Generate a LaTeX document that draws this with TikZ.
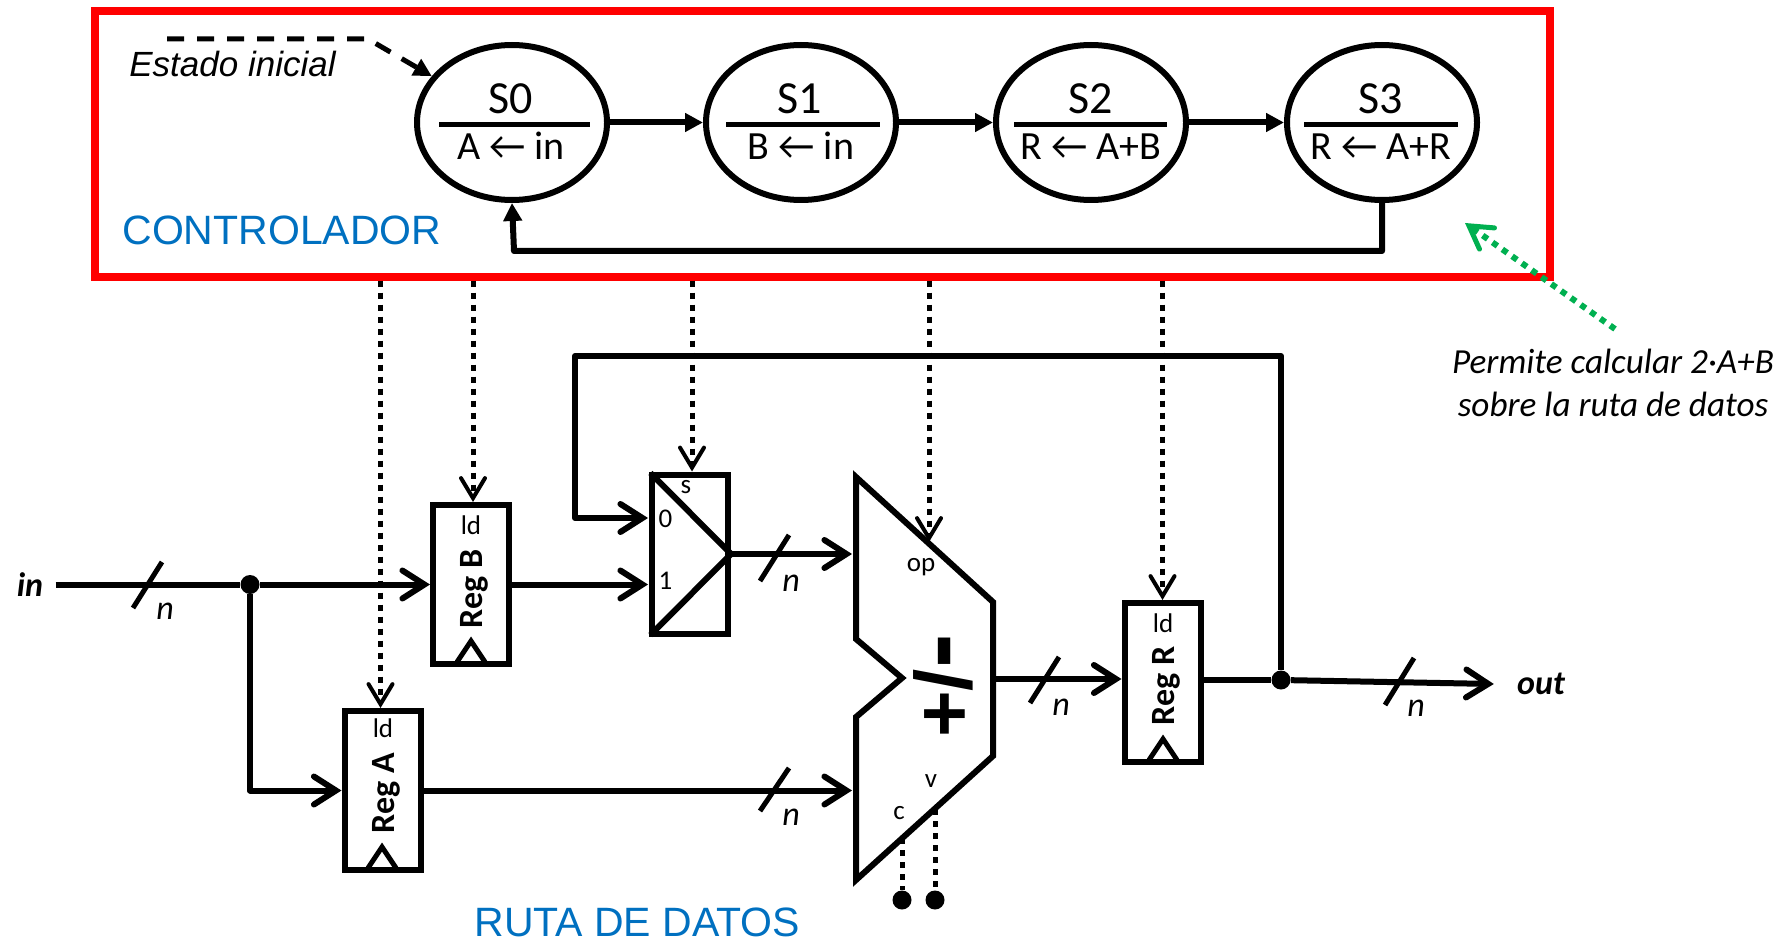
\documentclass[tikz,border=0pt]{standalone}
\usepackage{fontspec}
\setmainfont{Carlito}
\newfontfamily\arialfont{Liberation Sans}
\usepackage{xcolor}
\usetikzlibrary{arrows.meta, shapes.geometric}
\definecolor{titleblue}{HTML}{0070C0}
\definecolor{notegreen}{HTML}{00B050}

\begin{document}
\begin{tikzpicture}[x=0.5pt, y=-0.5pt,
    state/.style={draw, ellipse, line width=3pt, inner sep=0pt, minimum width=95pt, minimum height=77.5pt},
    reg/.style={draw, line width=3pt, inner sep=0pt, minimum width=38pt, minimum height=79.5pt},
    wire/.style={line width=3pt, line join=round},
    open/.style={-{Straight Barb[length=11pt, width=14pt, line cap=round]}},
    solid tip/.style={-{Triangle[length=9pt, width=9pt]}},
    ctrlline/.style={line width=2.5pt, dash pattern=on 3pt off 3pt, -{Straight Barb[length=10pt, width=12pt, line width=2pt, line cap=round]}},
    flagline/.style={line width=2.5pt, dash pattern=on 3pt off 3pt},
    slash/.style={line width=2.5pt},
    dot/.style={circle, fill=black, inner sep=0pt, minimum size=9.5pt},
    title/.style={text=titleblue, font=\arialfont\fontsize{20.5}{24}\selectfont, anchor=base west, inner sep=0pt},
    upper/.style={font=\fontsize{23}{26}\selectfont, anchor=base, inner sep=0pt},
    lower/.style={font=\fontsize{20}{24}\selectfont, anchor=base, inner sep=0pt},
    regname/.style={font=\bfseries\fontsize{17}{20}\selectfont, rotate=90, inner sep=0pt},
    small/.style={font=\fontsize{13.5}{16}\selectfont, inner sep=0pt},
    width/.style={font=\itshape\fontsize{17}{20}\selectfont, inner sep=0pt},
    port/.style={font=\bfseries\itshape\fontsize{17}{20}\selectfont},
]
    \useasboundingbox (0,0) rectangle (1792,941);

    % Controller frame and states
    \node[draw=red, line width=4pt, inner sep=0pt, minimum width=727.5pt, minimum height=132.5pt] (ctrl) at (822.5,144) {};
    \node[state] (S0) at (512,122.5) {};
    \node[state] (S1) at (801,122.5) {};
    \node[state] (S2) at (1091,122.5) {};
    \node[state] (S3) at (1382,122.5) {};

    % State contents
    \node[upper] (S0name) at (511,114) {S0};
    \node[upper] (S1name) at (800,114) {S1};
    \node[upper] (S2name) at (1091,114) {S2};
    \node[upper] (S3name) at (1381,114) {S3};
    \draw[line width=2.5pt] (439,125) -- (590,125);
    \draw[line width=2.5pt] (726,125) -- (880,125);
    \draw[line width=2.5pt] (1014,125) -- (1167,125);
    \draw[line width=2.5pt] (1304,125) -- (1458,125);
    \node[lower] (S0act) at (511,160) {A ← in};
    \node[lower] (S1act) at (801,160) {B ← in};
    \node[lower] (S2act) at (1091,160) {R ← A+B};
    \node[lower] (S3act) at (1381,160) {R ← A+R};

    % State transitions
    \draw[wire, solid tip] (S0) -- (S1);
    \draw[wire, solid tip] (S1) -- (S2);
    \draw[wire, solid tip] (S2) -- (S3);
    \coordinate (backR) at (1382,251);
    \coordinate (backL) at (514,251);
    \draw[wire, solid tip] (S3.south) -- (backR) -- (backL) -- (S0.south);

    % Initial state marker
    \coordinate (initA) at (167,39);
    \coordinate (initB) at (368,39);
    \draw[line width=2.5pt, dash pattern=on 8.5pt off 6.5pt, -{Triangle[length=9pt, width=9pt]}] (initA) -- (initB) -- (S0.150);
    \node[anchor=base west, inner sep=0pt, font=\arialfont\itshape\fontsize{17.5}{20}\selectfont] (init) at (129,77) {Estado inicial};
    \node[title] (ctrlname) at (122,244) {CONTROLADOR};

    % Registers and multiplexer
    \node[reg] (regB) at (471,584.5) {};
    \node[reg] (regA) at (382.5,790.5) {};
    \node[reg] (regR) at (1162.5,682.5) {};
    \node[reg] (mux) at (690,554) {};
    \draw[wire, shorten <=1pt, shorten >=1pt] (mux.north west) -- (mux.east) -- (mux.south west);
    \node[small] (ldB) at (471,525) {ld};
    \node[small] (ldA) at (383,728) {ld};
    \node[small] (ldR) at (1163,623) {ld};
    \node[regname] (nameB) at (474.5,589) {Reg B};
    \node[regname] (nameA) at (386.5,793) {Reg A};
    \node[regname] (nameR) at (1166.5,686) {Reg R};
    \draw[line width=2.5pt] (457,662) -- (471,641) -- (485,662);
    \draw[line width=2.5pt] (368,868) -- (382,847) -- (396,868);
    \draw[line width=2.5pt] (1149,760) -- (1163,739) -- (1177,760);
    \node[small] (muxs) at (686,487) {s};
    \node[small] (mux0) at (665.5,519) {0};
    \node[small] (mux1) at (665.5,581) {1};

    % Adder
    \draw[wire, line join=miter] (856,477) -- (993,602) -- (993,756) -- (856,880) -- (856,717) -- (902,678) -- (856,639) -- cycle;
    \node[font=\arialfont\bfseries\fontsize{40}{42}\selectfont, rotate=90, inner sep=0pt] (sign) at (943,686) {+/{\fontsize{52}{54}\selectfont -}};
    \node[small] (op) at (921,567) {op};
    \node[small] (flagv) at (931,781) {v};
    \node[small] (flagc) at (899,813) {c};
    \coordinate (aluA) at (852,554);
    \coordinate (aluB) at (852,790.5);
    \coordinate (aluOut) at (995,679);
    \coordinate (aluOp) at (929,542);
    \coordinate (aluC) at (902,838);
    \coordinate (aluV) at (935,809);

    % Data path
    \node[port, inner xsep=6pt] (in) at (30,585) {in};
    \node[dot] (inDot) at (250,584.5) {};
    \node[dot] (outDot) at (1281,680) {};
    \node[port, inner xsep=11.5pt] (out) at (1541,684) {out};
    \coordinate (muxIn0) at (648,518);
    \coordinate (muxIn1) at (648,584.5);
    \coordinate (loopA) at (1281,356);
    \coordinate (loopB) at (575,356);
    \coordinate (loopC) at (575,518);
    \coordinate (bendA) at (250,790.5);
    \draw[wire] (in.east |- inDot) -- (inDot);
    \draw[wire, open] (inDot) -- (regB.west);
    \draw[wire, open] (inDot) -- (bendA) -- (regA.west);
    \draw[wire, open] (regB.east) -- (muxIn1);
    \draw[wire, open] (outDot) -- (loopA) -- (loopB) -- (loopC) -- (muxIn0);
    \draw[wire, open] (mux.east) -- (aluA);
    \draw[wire, open] (regA.east) -- (aluB);
    \draw[wire, open] (aluOut) -- (aluOut -| regR.west);
    \draw[wire] (outDot -| regR.east) -- (outDot);
    \draw[wire, open] (outDot) -- (out.west);

    % Bus width marks
    \draw[slash] (162,562) -- (133,608);
    \draw[slash] (789,535) -- (760,581);
    \draw[slash] (789,768) -- (760,811);
    \draw[slash] (1059,657) -- (1030,703);
    \draw[slash] (1414,658) -- (1385,705);
    \node[width] (n1) at (165,611) {n};
    \node[width] (n2) at (791,583) {n};
    \node[width] (n3) at (791,817) {n};
    \node[width] (n4) at (1061,707) {n};
    \node[width] (n5) at (1416,708) {n};

    % Control signals
    \draw[ctrlline] ([xshift=-1pt]regA.north |- ctrl.south) -- ([xshift=-1pt]regA.north);
    \draw[ctrlline] ([xshift=1pt]regB.north |- ctrl.south) -- ([xshift=1pt]regB.north);
    \draw[ctrlline] ([xshift=1pt]mux.north |- ctrl.south) -- ([xshift=1pt]mux.north);
    \draw[ctrlline] (aluOp |- ctrl.south) -- (aluOp);
    \draw[ctrlline] (regR.north |- ctrl.south) -- (regR.north);

    % Flags
    \node[dot] (dotC) at (902,900) {};
    \node[dot] (dotV) at (935,900) {};
    \draw[flagline] (aluC) -- (dotC);
    \draw[flagline] (aluV) -- (dotV);
    \node[title] (dataname) at (474,936) {RUTA DE DATOS};

    % Note on the controller
    \coordinate (noteA) at (1615,329);
    \coordinate (noteB) at (1465,223);
    \draw[notegreen, line width=3pt, dash pattern=on 3pt off 3pt, -{Straight Barb[length=11pt, width=13pt, line width=2.5pt, line cap=round]}] (noteA) -- (noteB);
    \node[align=center, inner sep=0pt, font=\itshape\fontsize{17.6}{21.5}\selectfont] (note) at (1613,383) {Permite calcular 2·A+B\\sobre la ruta de datos};
\end{tikzpicture}
\end{document}
